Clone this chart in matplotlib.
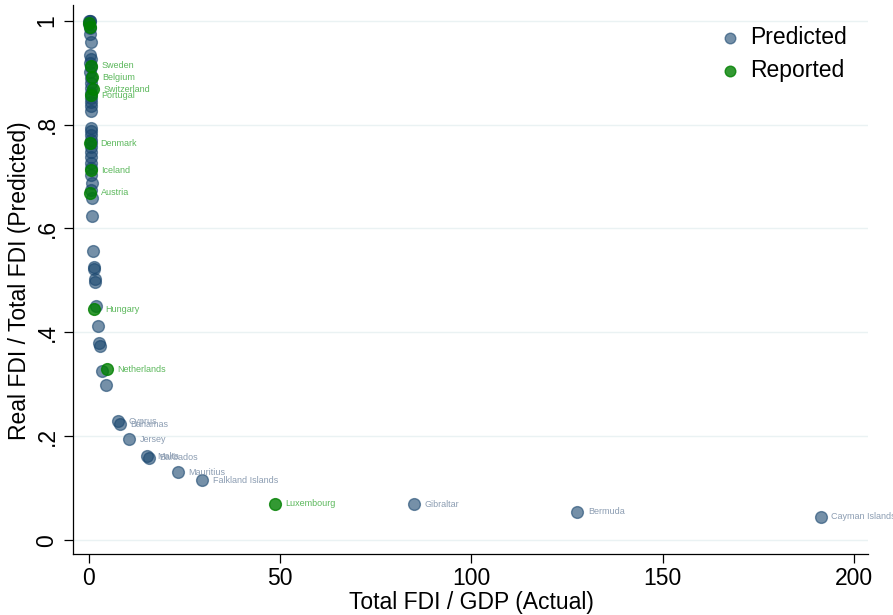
import numpy as np
import matplotlib.pyplot as plt

plt.rcParams['font.family'] = ['Liberation Sans', 'DejaVu Sans']

# predicted ratio, unlabeled countries (cluster near zero)
pred_x = [0.05, 0.15, 0.25, 0.1, 0.3, 0.2, 0.5,
          0.35, 0.4, 0.3, 0.45, 0.35, 0.5, 0.4, 0.55, 0.45, 0.5, 0.4, 0.55, 0.5,
          0.45, 0.5, 0.55, 0.4, 0.5, 0.55, 0.45, 0.5, 0.55, 0.6, 0.65, 0.7, 0.6, 0.75, 0.86,
          1.12, 1.35, 1.42, 1.49, 1.57, 1.91, 2.27, 2.69, 2.80, 3.48, 4.44]
pred_y = [1.000, 1.000, 0.999, 0.993, 0.985, 0.975, 0.958,
          0.934, 0.926, 0.918, 0.910, 0.901, 0.889, 0.880, 0.870, 0.860, 0.851, 0.843, 0.835, 0.826,
          0.793, 0.787, 0.779, 0.771, 0.764, 0.756, 0.747, 0.737, 0.725, 0.716, 0.703, 0.687, 0.674, 0.658, 0.624,
          0.556, 0.526, 0.522, 0.502, 0.497, 0.450, 0.412, 0.379, 0.374, 0.325, 0.298]

# predicted ratio, labeled offshore centres
off_names = ['Cyprus', 'Bahamas', 'Jersey', 'Malta', 'Barbados', 'Mauritius',
             'Falkland Islands', 'Gibraltar', 'Bermuda', 'Cayman Islands']
off_x = [7.65, 8.1, 10.5, 15.2, 15.7, 23.2, 29.6, 85.0, 127.7, 191.4]
off_y = [0.229, 0.223, 0.194, 0.162, 0.159, 0.131, 0.1155, 0.0687, 0.0545, 0.0449]

# reported ratio
rep_top_x = [0.1, 0.25]
rep_top_y = [0.996, 0.988]
rep_names = ['Sweden', 'Belgium', 'Switzerland', 'Portugal', 'Denmark', 'Iceland',
             'Austria', 'Hungary', 'Netherlands', 'Luxembourg']
rep_x = [0.44, 0.87, 1.05, 0.44, 0.26, 0.52, 0.35, 1.4, 4.6, 48.7]
rep_y = [0.913, 0.891, 0.868, 0.856, 0.764, 0.712, 0.669, 0.444, 0.329, 0.0706]

navy = '#1A476F'
green = '#008000'

fig = plt.figure(figsize=(8.93, 6.15), dpi=100)
ax = fig.add_axes([73 / 893, 1 - 553.7 / 615, (868 - 73) / 893, (553.7 - 5) / 615])

ax.scatter(pred_x + off_x, pred_y + off_y, s=72, color=navy, alpha=0.6,
           linewidths=1.0, label='Predicted', zorder=3)
ax.scatter(rep_top_x + rep_x, rep_top_y + rep_y, s=72, color=green, alpha=0.8,
           linewidths=1.0, label='Reported', zorder=4)

for n, x, y in zip(off_names, off_x, off_y):
    ax.annotate(n, (x, y), xytext=(7.5, 0), textcoords='offset points',
                fontsize=6.5, color='#8C9DB2', va='center', ha='left',
                annotation_clip=False, zorder=5)
for n, x, y in zip(rep_names, rep_x, rep_y):
    ax.annotate(n, (x, y), xytext=(7.5, 0), textcoords='offset points',
                fontsize=6.5, color='#5CB85C', va='center', ha='left',
                annotation_clip=False, zorder=5)

ax.set_xlim(-4.18, 203.7)
ax.set_ylim(-0.026, 1.03)
ax.set_xticks([0, 50, 100, 150, 200])
ax.set_yticks([0, 0.2, 0.4, 0.6, 0.8, 1.0])
ax.set_yticklabels(['0', '.2', '.4', '.6', '.8', '1'], rotation=90, va='center')
ax.tick_params(length=6.5, width=0.9, labelsize=16.5, pad=3)
ax.tick_params(axis='y', pad=4)
ax.grid(axis='y', color='#EAF2F3', linewidth=1.0, zorder=0)
ax.set_axisbelow(True)
for s in ['top', 'right']:
    ax.spines[s].set_visible(False)
for s in ['left', 'bottom']:
    ax.spines[s].set_linewidth(0.9)

fig.text(471.5 / 893, 1 - 603 / 615, 'Total FDI / GDP (Actual)', fontsize=16.5,
         ha='center', va='center')
fig.text(20 / 893, 1 - 281 / 615, 'Real FDI / Total FDI (Predicted)', fontsize=16.5,
         ha='center', va='center', rotation=90)

ax.legend(loc='upper left', bbox_to_anchor=(718.5 / 893, 1 - 26 / 615),
          bbox_transform=fig.transFigure, frameon=False, fontsize=16.5,
          handlelength=1.0, handletextpad=0.375, labelspacing=0.45,
          borderpad=0, borderaxespad=0, markerscale=0.9)

fig.savefig('out.png', dpi=100)
